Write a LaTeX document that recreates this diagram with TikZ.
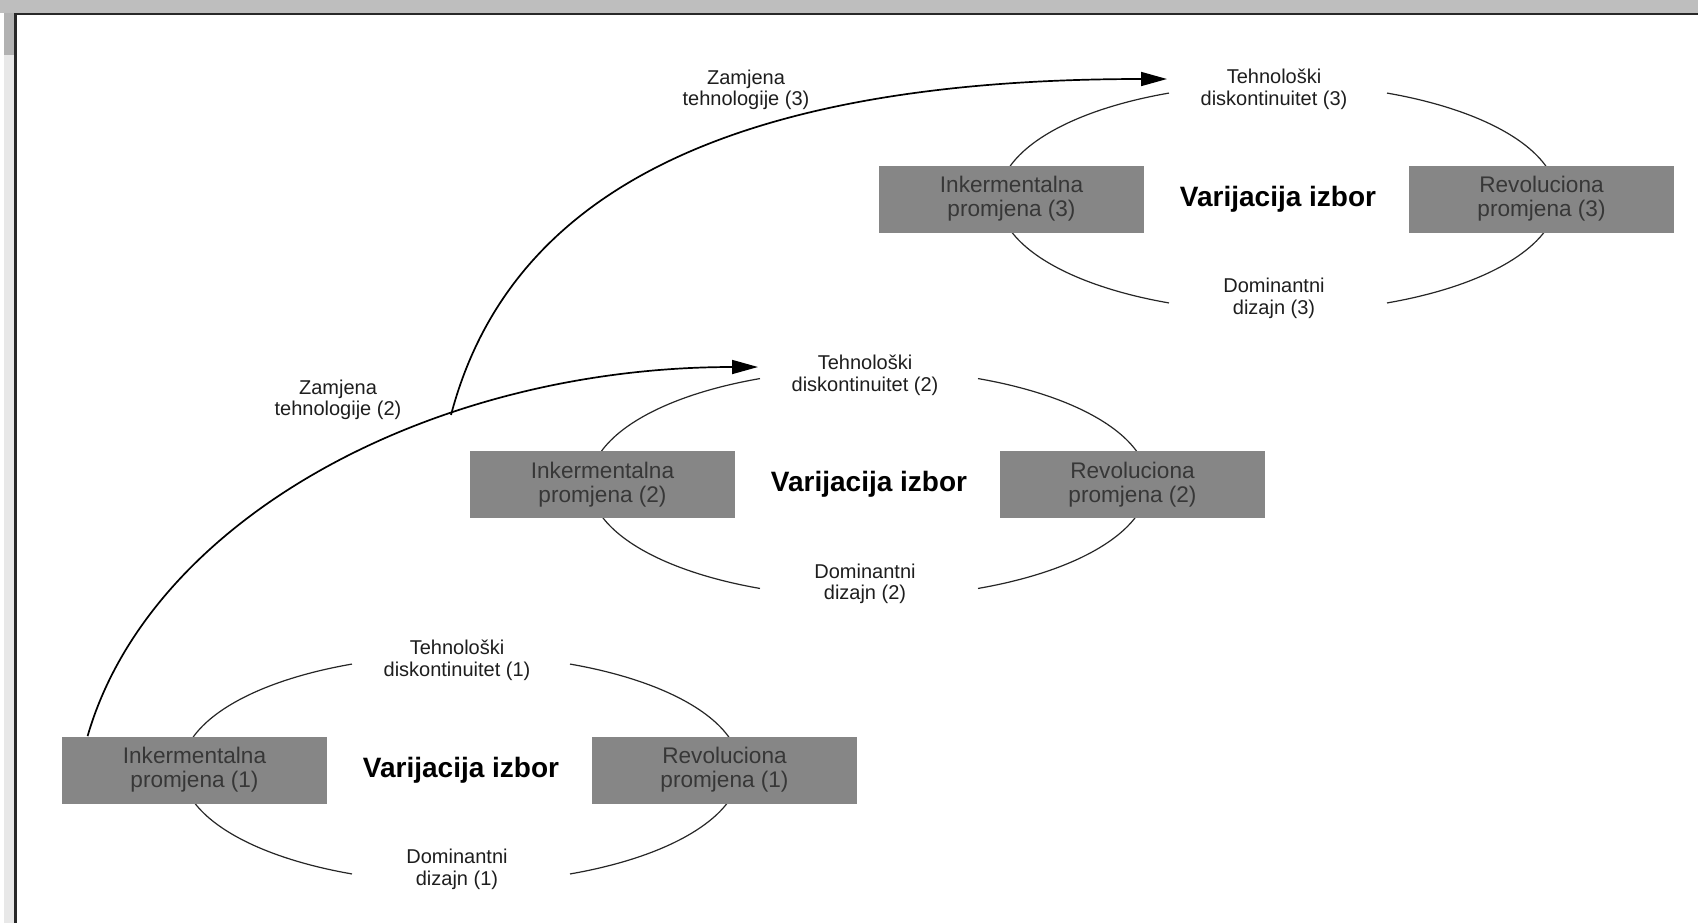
\documentclass[tikz,border=0pt]{standalone}
\usepackage{fontspec}
\setmainfont{Liberation Sans}
\usetikzlibrary{arrows.meta,calc}
\definecolor{boxgray}{RGB}{134,134,134}
\definecolor{boxtext}{RGB}{55,55,55}
\definecolor{labtext}{RGB}{30,30,30}
\definecolor{barGray}{RGB}{190,190,190}
\definecolor{stripGray}{RGB}{232,232,232}
\definecolor{knobGray}{RGB}{178,178,178}
\definecolor{frameLine}{RGB}{40,40,40}
\begin{document}
\begin{tikzpicture}[x=0.5pt,y=-0.5pt,
  changebox/.style={fill=boxgray, draw=none, minimum width=132.5pt, minimum height=33.5pt,
    inner sep=0pt, align=center, text=boxtext, font=\fontsize{11.3}{11.9}\selectfont},
  lab/.style={align=center, inner sep=0pt, text=labtext, font=\fontsize{10}{10.8}\selectfont},
  vartext/.style={font=\fontsize{14}{16}\selectfont\bfseries, text=black, inner sep=0pt},
  cyc/.style={draw=black!85, line width=0.6pt},
  flow/.style={draw=black, line width=0.85pt, -{Triangle[length=13pt,width=7pt]}},
]
\useasboundingbox (0,0) rectangle (1698,923);
\fill[white] (0,0) rectangle (1698,923);
% window chrome
\fill[barGray] (0,0) rectangle (1698,13);
\fill[stripGray] (4,13) rectangle (14,923);
\fill[knobGray] (4,13) rectangle (14,55);
\draw[frameLine, line width=1pt] (14,14) -- (1698,14);
\draw[frameLine, line width=1.2pt] (15.5,14) -- (15.5,923);

\foreach \i/\dx/\dy in {1/0/0,2/408/-285.5,3/817/-571}{
  \coordinate (c\i) at ({461+\dx},{769+\dy});
  \draw[cyc] ([shift={(-67:139.5pt and 57pt)}]c\i) arc[start angle=-67,end angle=67,x radius=139.5pt,y radius=57pt];
  \draw[cyc] ([shift={(113:139.5pt and 57pt)}]c\i) arc[start angle=113,end angle=247,x radius=139.5pt,y radius=57pt];
  \node[changebox] (inc\i) at ({194.5+\dx},{770+\dy}) {Inkermentalna\\promjena (\i)};
  \node[changebox] (rev\i) at ({724.5+\dx},{770+\dy}) {Revoluciona\\promjena (\i)};
  \node[vartext] (var\i) at ({461+\dx},{770+\dy}) {Varijacija izbor};
  \node[lab] (teh\i) at ({457+\dx},{660.5+\dy}) {Tehnološki\\diskontinuitet (\i)};
  \node[lab] (dom\i) at ({457+\dx},{869.5+\dy}) {Dominantni\\dizajn (\i)};
}

\node[lab] (zam2) at (338,400) {Zamjena\\tehnologije (2)};
\node[lab] (zam3) at (746,90) {Zamjena\\tehnologije (3)};

\coordinate (s1) at ([xshift=13pt]inc1.north west);
\coordinate (e1) at (758,367);
\coordinate (j) at (451,415);
\coordinate (e2) at (1167,79);

\draw[flow] (s1) .. controls (150,520) and (430,367) .. (e1);
\draw[flow] (j) .. controls (505,210) and (700,79) .. (e2);
\end{tikzpicture}
\end{document}
